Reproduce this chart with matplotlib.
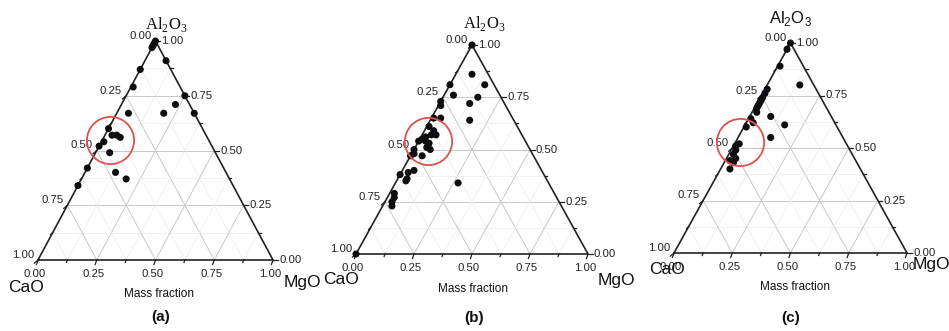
import numpy as np
import matplotlib
matplotlib.use("Agg")
import matplotlib.pyplot as plt

plt.rcParams['font.family'] = ['Liberation Sans', 'DejaVu Sans']

# Zusammensetzungen (Massenanteile) CaO, Al2O3, MgO fuer die drei Diagramme
cao_a = [0.00, 0.01, 0.02, 0.03, 0.00, 0.13, 0.20, 0.00, 0.06, 0.13, 0.00, 0.28,
         0.40, 0.40, 0.38, 0.37, 0.45, 0.48, 0.45, 0.58, 0.47, 0.44, 0.66]
al2o3_a = [1.00, 0.99, 0.98, 0.97, 0.91, 0.87, 0.79, 0.75, 0.71, 0.67, 0.67, 0.67,
           0.60, 0.57, 0.57, 0.56, 0.54, 0.52, 0.49, 0.42, 0.40, 0.37, 0.34]
mgo_a = [0.00, 0.00, 0.00, 0.00, 0.09, 0.00, 0.01, 0.25, 0.23, 0.20, 0.33, 0.05,
         0.00, 0.03, 0.05, 0.07, 0.01, 0.00, 0.06, 0.00, 0.13, 0.19, 0.00]

cao_b = [0.00, 0.07, 0.04, 0.19, 0.20, 0.27, 0.10, 0.15, 0.28, 0.19, 0.31, 0.34,
         0.38, 0.37, 0.37, 0.39, 0.42, 0.44, 0.43, 0.42, 0.46, 0.44, 0.43, 0.50,
         0.51, 0.53, 0.48, 0.55, 0.58, 0.62, 0.60, 0.61, 0.39, 0.69, 0.70, 0.72,
         0.73, 1.00]
al2o3_b = [1.00, 0.86, 0.81, 0.81, 0.76, 0.73, 0.75, 0.72, 0.71, 0.64, 0.65, 0.65,
           0.61, 0.59, 0.57, 0.57, 0.56, 0.55, 0.54, 0.53, 0.54, 0.51, 0.50, 0.50,
           0.48, 0.47, 0.47, 0.40, 0.39, 0.38, 0.36, 0.35, 0.34, 0.29, 0.27, 0.25,
           0.23, 0.00]
mgo_b = [0.00, 0.07, 0.15, 0.00, 0.04, 0.00, 0.15, 0.13, 0.01, 0.17, 0.04, 0.01,
         0.01, 0.04, 0.06, 0.04, 0.02, 0.01, 0.03, 0.05, 0.00, 0.05, 0.07, 0.00,
         0.01, 0.00, 0.05, 0.05, 0.03, 0.00, 0.04, 0.04, 0.27, 0.02, 0.03, 0.03,
         0.04, 0.00]

cao_c = [0.00, 0.03, 0.10, 0.06, 0.21, 0.23, 0.25, 0.26, 0.27, 0.28, 0.29, 0.30,
         0.31, 0.35, 0.26, 0.22, 0.39, 0.35, 0.31, 0.46, 0.48, 0.49, 0.51, 0.51,
         0.54, 0.53, 0.56]
al2o3_c = [1.00, 0.97, 0.89, 0.80, 0.78, 0.76, 0.74, 0.73, 0.72, 0.71, 0.70, 0.69,
           0.67, 0.64, 0.65, 0.61, 0.60, 0.62, 0.55, 0.52, 0.51, 0.49, 0.47, 0.45,
           0.44, 0.43, 0.40]
mgo_c = [0.00, 0.00, 0.01, 0.14, 0.01, 0.01, 0.01, 0.01, 0.01, 0.01, 0.01, 0.01,
         0.02, 0.01, 0.09, 0.17, 0.01, 0.03, 0.14, 0.02, 0.01, 0.02, 0.02, 0.04,
         0.02, 0.04, 0.04]

# Mittelpunkt des roten Kreises (CaO, Al2O3, MgO)
circle_a = (0.42, 0.55, 0.03)
circle_b = (0.42, 0.54, 0.04)
circle_c = (0.45, 0.53, 0.02)

tick_values = [0.00, 0.25, 0.50, 0.75, 1.00]
panel_names = ['(a)', '(b)', '(c)']

FW, FH = 949, 331
fig = plt.figure(figsize=(FW/100, FH/100), dpi=100)


def tern(cao, al2o3, mgo):
    # Massenanteile -> x,y im Dreieck (Basis 0..1, Hoehe 0..1)
    cao = np.asarray(cao, float)
    al2o3 = np.asarray(al2o3, float)
    mgo = np.asarray(mgo, float)
    s = cao + al2o3 + mgo
    a = al2o3 / s
    m = mgo / s
    return m + a/2, a


def panel(x0, y0, w, h, cao, al2o3, mgo, centre, name, top_font, off):
    # x0,y0 = linke untere Ecke in Pixel, w,h = Breite/Hoehe in Pixel
    ax = fig.add_axes([x0/FW, (FH - y0)/FH, w/FW, h/FH])
    ax.set_xlim(0, 1)
    ax.set_ylim(0, 1)
    ax.axis('off')
    px, py = 1.0/w, 1.0/h   # ein Pixel in Datenkoordinaten

    # Gitterlinien, fein (0.125) und grob (0.25)
    for v in np.arange(0.125, 1, 0.125):
        major = abs(v*4 - round(v*4)) < 1e-6
        col = '#c9c9c9' if major else '#efefef'
        lw = 0.7 if major else 0.6
        ax.plot([v/2, 1 - v/2], [v, v], color=col, lw=lw, zorder=1)
        ax.plot([v, v + (1-v)/2], [0, 1-v], color=col, lw=lw, zorder=1)
        ax.plot([1-v, (1-v)/2], [0, 1-v], color=col, lw=lw, zorder=1)

    # Dreieck
    ax.plot([0, 1, 0.5, 0], [0, 0, 1, 0], color='#222222', lw=1.2, zorder=3,
            clip_on=False, solid_joinstyle='miter')

    # Ticks an allen drei Achsen
    for v in np.arange(0, 1.0001, 0.125):
        L = 4.5 if abs(v*4 - round(v*4)) < 1e-6 else 2.5
        ax.plot([v, v - 0.35*L*px], [0, -L*py], color='#222222', lw=0.9, clip_on=False)
        xl, yl = (1-v)/2, 1-v
        ax.plot([xl, xl - 0.8*L*px], [yl, yl - 0.7*L*py], color='#222222', lw=0.9,
                clip_on=False)
        xr, yr = 1 - v/2, v
        ax.plot([xr, xr + L*px], [yr, yr], color='#222222', lw=0.9, clip_on=False)

    kw = dict(textcoords='offset pixels', fontsize=8.2, color='#222222')
    for v in tick_values:
        lab = f'{v:.2f}'
        ax.annotate(lab, (v, 0), xytext=(-3, -9), ha='center', va='top', **kw)
        ax.annotate(lab, ((1-v)/2, 1-v), xytext=(-4, 5), ha='right', va='center', **kw)
        ax.annotate(lab, (1 - v/2, v), xytext=(6, 0), ha='left', va='center', **kw)

    # Messpunkte
    x, y = tern(cao, al2o3, mgo)
    ax.scatter(x, y, s=26, c='#0d0d12', edgecolors='none', zorder=5, clip_on=False)

    # roter Kreis um den markierten Bereich
    cx, cy = tern(*centre)
    ax.plot(cx, cy, 'o', ms=34, mfc='none', mec='#d9534f', mew=1.3, zorder=6)

    # Beschriftungen
    ax.annotate(r'Al$_\mathregular{2}$O$_\mathregular{3}$', (0.5, 1),
                xytext=off['al'], textcoords='offset pixels', ha='center',
                va='center', fontsize=12, family=top_font, color='#111111')
    ax.annotate('CaO', (0, 0), xytext=off['ca'], textcoords='offset pixels',
                ha='center', va='center', fontsize=12.5, color='#111111')
    ax.annotate('MgO', (1, 0), xytext=off['mg'], textcoords='offset pixels',
                ha='center', va='center', fontsize=12.5, color='#111111')
    ax.annotate('Mass fraction', (0.5, 0), xytext=off['mf'], textcoords='offset pixels',
                ha='center', va='center', fontsize=8.5, color='#111111')
    ax.annotate(name, (0.5, 0), xytext=off['nm'], textcoords='offset pixels',
                ha='center', va='center', fontsize=11, fontweight='bold',
                color='#111111')
    return ax


panel(38, 260, 235, 219, cao_a, al2o3_a, mgo_a, circle_a, panel_names[0],
      ['Liberation Serif', 'DejaVu Serif'],
      dict(al=(11, 17), ca=(-12, -28), mg=(29, -23), mf=(3, -34), nm=(5, -57)))
panel(356, 254, 232, 209, cao_b, al2o3_b, mgo_b, circle_b, panel_names[1],
      ['Liberation Serif', 'DejaVu Serif'],
      dict(al=(12, 22), ca=(-15, -26), mg=(28, -26), mf=(1, -35), nm=(2, -64)))
panel(674, 253, 233, 210, cao_c, al2o3_c, mgo_c, circle_c, panel_names[2],
      ['Liberation Sans', 'DejaVu Sans'],
      dict(al=(0, 24), ca=(-7, -16), mg=(24, -11), mf=(4, -34), nm=(0, -65)))

fig.savefig('out.png', dpi=100, facecolor='white')
